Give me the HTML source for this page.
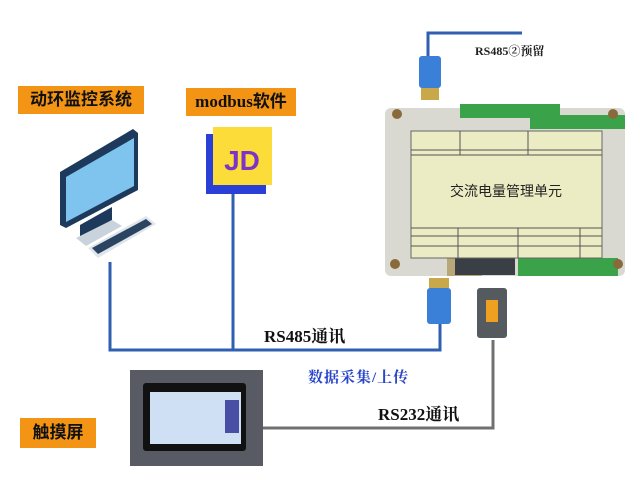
<!DOCTYPE html>
<html><head><meta charset="utf-8"><style>
body{margin:0;width:640px;height:480px;background:#fff;position:relative;overflow:hidden;font-family:"Liberation Serif","Noto Serif CJK SC",serif}
.a{position:absolute}
.lab{position:absolute;background:#f39415;font-weight:bold;font-size:17px;color:#111;line-height:28px;text-align:center;font-family:"Liberation Serif","Noto Sans CJK SC",sans-serif}
</style></head><body>
<div class="lab" style="left:18px;top:86px;width:126px">动环监控系统</div>
<div class="lab" style="left:186px;top:88px;width:110px">modbus软件</div>
<div class="lab" style="left:20px;top:418px;width:76px;line-height:30px">触摸屏</div>

<svg class="a" style="left:0;top:0" width="640" height="480">
 <g stroke="#2f5fb0" stroke-width="3" fill="none">
  <polyline points="110,262 110,350 440,350 440,322"/>
  <line x1="233" y1="190" x2="233" y2="350"/>
  <polyline points="428,62 428,33 522,33"/>
 </g>
 <polyline points="493,340 493,428 262,428" stroke="#707070" stroke-width="3" fill="none"/>
 <rect x="206" y="134" width="60" height="60" fill="#2a3fd6"/>
 <rect x="213" y="127" width="59" height="58" fill="#fbdc38"/>
 <text x="242" y="170" font-family="Liberation Sans" font-weight="bold" font-size="28" fill="#7c33c8" text-anchor="middle">JD</text>
 <polygon points="60,172 133,129 138,133 138,190 66,228 60,225" fill="#1d3a5c"/>
 <polygon points="66,177 134,138 134,186 66,222" fill="#7ec4ee"/>
 <polygon points="80,225 112,207 112,220 80,238" fill="#1d3a5c"/>
 <polygon points="76,238 112,220 122,226 86,246" fill="#c9d3dc"/>
 <polygon points="88,248 146,216 156,224 98,258" fill="#dfe5ea"/>
 <polygon points="92,248 146,219 152,224 98,254" fill="#2a4462"/>
 <rect x="385" y="108" width="240" height="168" rx="6" fill="#d9d9d2"/>
 <rect x="460" y="104" width="100" height="14" fill="#3aa34a"/>
 <rect x="530" y="115" width="95" height="14" fill="#3aa34a"/>
 <rect x="447" y="256" width="35" height="20" fill="#b9a77a"/>
 <rect x="455" y="255" width="60" height="20" fill="#3a3f46"/>
 <rect x="518" y="258" width="100" height="18" fill="#3aa34a"/>
 <circle cx="397" cy="114" r="5" fill="#8a6a3a"/><circle cx="613" cy="114" r="5" fill="#8a6a3a"/>
 <circle cx="395" cy="264" r="5" fill="#8a6a3a"/><circle cx="618" cy="264" r="5" fill="#8a6a3a"/>
 <rect x="411" y="131" width="191" height="127" fill="#ececc4" stroke="#666" stroke-width="1"/>
 <g stroke="#555" stroke-width="1" fill="none">
  <line x1="411" y1="150" x2="602" y2="150"/><line x1="411" y1="155" x2="602" y2="155"/>
  <line x1="411" y1="228" x2="602" y2="228"/><line x1="411" y1="236" x2="602" y2="236"/>
  <line x1="411" y1="246" x2="602" y2="246"/>
  <line x1="460" y1="131" x2="460" y2="155"/><line x1="528" y1="131" x2="528" y2="155"/>
  <line x1="458" y1="228" x2="458" y2="258"/><line x1="518" y1="228" x2="518" y2="258"/><line x1="580" y1="228" x2="580" y2="258"/>
 </g>
 <text x="506" y="196" font-family="Liberation Sans,Noto Sans CJK SC,sans-serif" font-size="14" fill="#222" text-anchor="middle">交流电量管理单元</text>
 <rect x="419" y="56" width="22" height="32" rx="3" fill="#3a7fd8"/>
 <rect x="421" y="88" width="18" height="12" fill="#c9a84a"/>
 <rect x="429" y="278" width="20" height="10" fill="#c9a84a"/>
 <rect x="427" y="288" width="24" height="36" rx="3" fill="#3a7fd8"/>
 <rect x="477" y="288" width="30" height="50" rx="3" fill="#555a5e"/>
 <rect x="486" y="300" width="12" height="22" fill="#f0a020"/>
 <rect x="130" y="370" width="133" height="96" fill="#585b63"/>
 <rect x="143" y="383" width="103" height="68" rx="3" fill="#111"/>
 <rect x="150" y="392" width="91" height="52" fill="#cfe0f4"/>
 <rect x="225" y="400" width="14" height="33" fill="#4a4fa6"/>
</svg>
<div class="a" style="left:475px;top:42px;font-size:12px;font-weight:bold;color:#222">RS485②预留</div>
<div class="a" style="left:264px;top:322px;font-size:17px;font-weight:bold;color:#111">RS485通讯</div>
<div class="a" style="left:308px;top:366px;font-size:15px;font-weight:bold;color:#2a45c8;letter-spacing:1px">数据采集/上传</div>
<div class="a" style="left:378px;top:400px;font-size:17px;font-weight:bold;color:#111">RS232通讯</div>
</body></html>
